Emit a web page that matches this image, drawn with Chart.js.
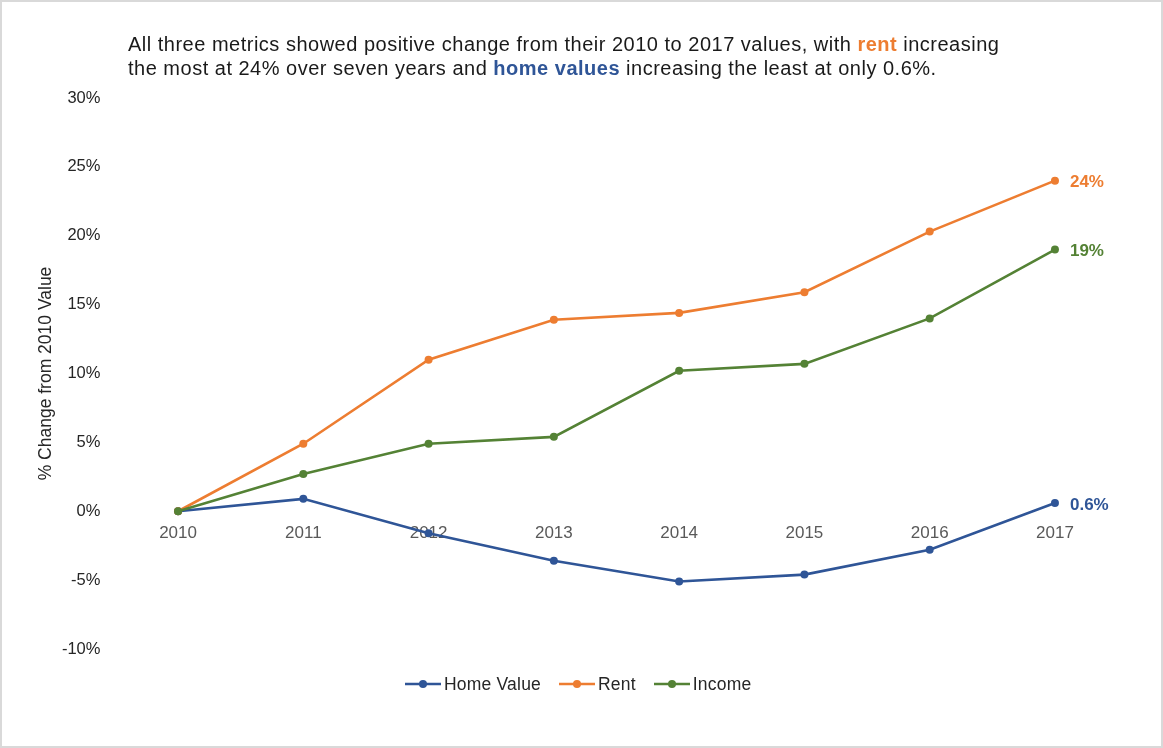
<!DOCTYPE html>
<html>
<head>
<meta charset="utf-8">
<script src="https://cdn.jsdelivr.net/npm/chart.js@4.4.0/dist/chart.umd.min.js"></script>
<style>
  html, body { margin: 0; padding: 0; background: #fff; }
  #wrap { position: relative; width: 1163px; height: 748px; overflow: hidden; font-family: "Liberation Sans", Arial, sans-serif; }
  #c { position: absolute; left: 0; top: 0; }
  #frame { position: absolute; left: 0; top: 0; width: 1163px; height: 748px; box-sizing: border-box; border: 2px solid #d9d9d9; pointer-events: none; }
  #title { position: absolute; left: 128px; top: 32px; font-size: 20px; letter-spacing: 0.5px; line-height: 24px; color: #1a1a1a; white-space: nowrap; }
  #title b.rent { color: #ED7D31; }
  #title b.home { color: #2F5597; }
  #legend { position: absolute; left: 405px; top: 674px; display: flex; align-items: center; font-size: 17.5px; letter-spacing: 0.2px; color: #262626; line-height: 20px; }
  #legend .item { display: flex; align-items: center; margin-right: 18px; }
  #legend svg { margin-right: 3px; }
</style>
</head>
<body>
<div id="wrap">
  <canvas id="c" width="1163" height="748"></canvas>
  <div id="title">All three metrics showed positive change from their 2010 to 2017 values, with <b class="rent">rent</b> increasing<br>the most at 24% over seven years and <b class="home">home values</b> increasing the least at only 0.6%.</div>
  <div id="legend"></div>
  <div id="frame"></div>
</div>
<script>
const years = ['2010', '2011', '2012', '2013', '2014', '2015', '2016', '2017'];
const homeValue = [0, 0.9, -1.6, -3.6, -5.1, -4.6, -2.8, 0.6];
const rent = [0, 4.9, 11.0, 13.9, 14.4, 15.9, 20.3, 24.0];
const income = [0, 2.7, 4.9, 5.4, 10.2, 10.7, 14.0, 19.0];
const seriesNames = ['Home Value', 'Rent', 'Income'];
const seriesColors = ['#2F5597', '#ED7D31', '#548235'];
const yTicks = [-10, -5, 0, 5, 10, 15, 20, 25, 30];
const yAxisTitle = '% Change from 2010 Value';

const seriesData = [homeValue, rent, income];
const drawOrder = [3, 2, 1];

const datasets = seriesData.map((d, i) => ({
  label: seriesNames[i],
  data: d,
  borderColor: seriesColors[i],
  backgroundColor: seriesColors[i],
  borderWidth: 2.6,
  pointRadius: 4,
  pointHoverRadius: 4,
  pointBorderWidth: 0,
  tension: 0,
  order: drawOrder[i]
}));

function fmtEnd(v) {
  return (Math.abs(v) >= 1 ? Math.round(v).toString() : v.toFixed(1)) + '%';
}

const endLabels = {
  id: 'endLabels',
  afterDatasetsDraw(chart) {
    const ctx = chart.ctx;
    ctx.save();
    ctx.font = 'bold 17px "Liberation Sans", Arial, sans-serif';
    ctx.textBaseline = 'middle';
    ctx.textAlign = 'left';
    chart.data.datasets.forEach((ds, i) => {
      const meta = chart.getDatasetMeta(i);
      const pt = meta.data[meta.data.length - 1];
      ctx.fillStyle = ds.borderColor;
      ctx.fillText(fmtEnd(ds.data[ds.data.length - 1]), pt.x + 15, pt.y + 2);
    });
    ctx.restore();
  }
};

const tickFont = { family: '"Liberation Sans", Arial, sans-serif', size: 16.5 };

new Chart(document.getElementById('c'), {
  type: 'line',
  data: { labels: years, datasets },
  options: {
    responsive: false,
    animation: false,
    events: [],
    layout: { padding: { left: 32, right: 45.4, top: 98, bottom: 99 } },
    plugins: { legend: { display: false }, title: { display: false }, tooltip: { enabled: false } },
    scales: {
      x: {
        type: 'category',
        offset: true,
        position: { y: 0 },
        grid: { display: false, drawTicks: false },
        border: { display: false },
        ticks: { color: '#595959', font: { ...tickFont, size: 17 }, padding: 12, maxRotation: 0, autoSkip: false },
        afterFit(scale) { scale.height = 0; }
      },
      y: {
        min: -10,
        max: 30,
        afterBuildTicks(scale) { scale.ticks = yTicks.map(v => ({ value: v })); },
        grid: { display: false, drawTicks: false },
        border: { display: false },
        ticks: { color: '#262626', font: tickFont, padding: 15, callback: v => v + '%' },
        title: { display: true, text: yAxisTitle, color: '#262626', font: { family: '"Liberation Sans", Arial, sans-serif', size: 17.5 }, padding: { top: 4, bottom: 4 } },
        afterFit(scale) { scale.width = 83.4; }
      }
    }
  },
  plugins: [endLabels]
});

const legend = document.getElementById('legend');
seriesNames.forEach((name, i) => {
  const item = document.createElement('div');
  item.className = 'item';
  item.innerHTML = '<svg width="36" height="10" viewBox="0 0 36 10"><line x1="0" y1="5" x2="36" y2="5" stroke="' + seriesColors[i] + '" stroke-width="2.5"/><circle cx="18" cy="5" r="4" fill="' + seriesColors[i] + '"/></svg>';
  const span = document.createElement('span');
  span.textContent = name;
  item.appendChild(span);
  legend.appendChild(item);
});
</script>
</body>
</html>
